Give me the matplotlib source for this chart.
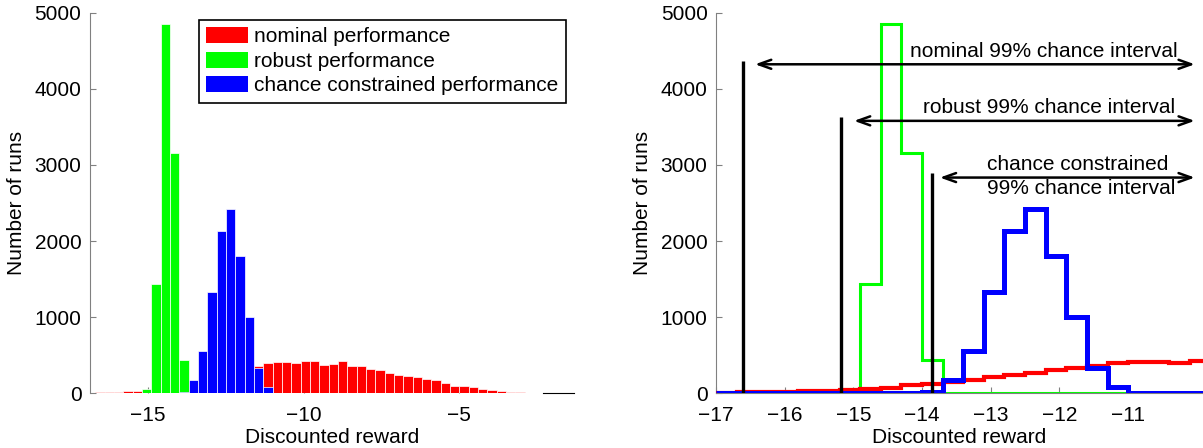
import matplotlib
matplotlib.use("Agg")
import matplotlib.pyplot as plt
import numpy as np

plt.rcParams["font.family"] = ["Liberation Sans", "DejaVu Sans"]
plt.rcParams["font.size"] = 15

# histogram bins (shared by all three series)
BIN_LO = -17.0
BIN_W = 0.3

nominal = [10, 12, 17, 22, 30, 36, 48, 62, 72, 105,
           120, 150, 178, 210, 245, 272, 305, 330, 355, 392,
           410, 407, 402, 420, 429, 376, 385, 420, 355, 359,
           324, 311, 271, 245, 228, 219, 184, 175, 140, 98,
           90, 80, 62, 45, 35, 22, 12, 0, 3]
robust = [0, 0, 0, 0, 0, 0, 57, 1436, 4853, 3161, 438] + [0] * 38
chance = [0] * 10 + [21, 171, 556, 1327, 2133, 2418, 1808, 1003, 337, 79] + [0] * 29

labels = ["nominal performance", "robust performance", "chance constrained performance"]
colors = ["#ff0000", "#00ff00", "#0000ff"]

# 99% chance intervals (right panel)
interval_lo = [-16.60, -15.18, -13.85]
interval_top = [4365, 3632, 2900]
arrow_lo = [-16.43, -14.99, -13.74]
arrow_y = [4322, 3579, 2834]
arrow_hi = -10.03
interval_text = ["nominal 99% chance interval", "robust 99% chance interval",
                 "chance constrained\n99% chance interval"]
text_x = [-14.17, -13.99, -13.06]
text_y = [4487, 3756, 2850]
robust_bins_shown = 20

edges = BIN_LO + BIN_W * np.arange(len(nominal) + 1)
centers = (edges[:-1] + edges[1:]) / 2

fig = plt.figure(figsize=(12.03, 4.48), dpi=100)
ax1 = fig.add_axes([0.0746, 0.1221, 0.4026, 0.8496])
ax2 = fig.add_axes([0.5951, 0.1221, 0.4049, 0.8496])

for ax in (ax1, ax2):
    ax.spines["top"].set_visible(False)
    ax.spines["right"].set_visible(False)
    ax.spines["left"].set_color("#808080")
    ax.spines["bottom"].set_color("#808080")
    ax.tick_params(direction="in", length=4, color="#808080", labelcolor="black", pad=6)
    ax.tick_params(axis="x", pad=9)
    ax.set_ylim(0, 5000)
    ax.set_yticks(np.arange(0, 5001, 1000))
    ax.set_ylabel("Number of runs", labelpad=6)
    ax.set_xlabel("Discounted reward", labelpad=2)

# left: overlapping histograms
for vals, col, lab in zip([nominal, robust, chance], colors, labels):
    ax1.bar(centers, vals, width=BIN_W, color=col, edgecolor="white",
            linewidth=0.5, label=lab, zorder=3)
ax1.set_xlim(-16.88, -1.31)
ax1.set_xticks([-15, -10, -5])
ax1.spines["bottom"].set_color("black")
ax1.spines["bottom"].set_bounds(edges[-1], -1.31)
leg = ax1.legend(loc="upper left", bbox_to_anchor=(0.2257, 0.981), borderaxespad=0,
                 fancybox=False, edgecolor="black", framealpha=1,
                 handlelength=2.0, handleheight=0.8, handletextpad=0.3,
                 labelspacing=0.25, borderpad=0.35)
leg.get_frame().set_linewidth(1.2)
for h in leg.legend_handles:
    h.set_edgecolor("none")

# right: step outlines with chance intervals
n = robust_bins_shown
ax2.stairs(robust[:n], edges[:n + 1], color=colors[1], linewidth=2.2, baseline=None, zorder=2)
ax2.stairs(nominal, edges, color=colors[0], linewidth=3.0, baseline=None, zorder=3)
ax2.stairs(chance, edges, color=colors[2], linewidth=3.6, baseline=None, zorder=4)
ax2.vlines(interval_lo, 0, interval_top, color="black", linewidth=2.4, zorder=5)
for lo, y in zip(arrow_lo, arrow_y):
    ax2.annotate("", xy=(arrow_hi, y), xytext=(lo, y),
                 arrowprops=dict(arrowstyle="<->,head_length=0.5,head_width=0.18",
                                 lw=1.8, color="black", shrinkA=0, shrinkB=0,
                                 mutation_scale=18),
                 annotation_clip=False, zorder=6)
for s, x, y in zip(interval_text, text_x, text_y):
    ax2.text(x, y, s, ha="left", va="center", linespacing=1.3, zorder=6)
ax2.set_xlim(-17, -9.91)
ax2.set_xticks(np.arange(-17, -10.5, 1))

fig.savefig("out.png", dpi=100)
